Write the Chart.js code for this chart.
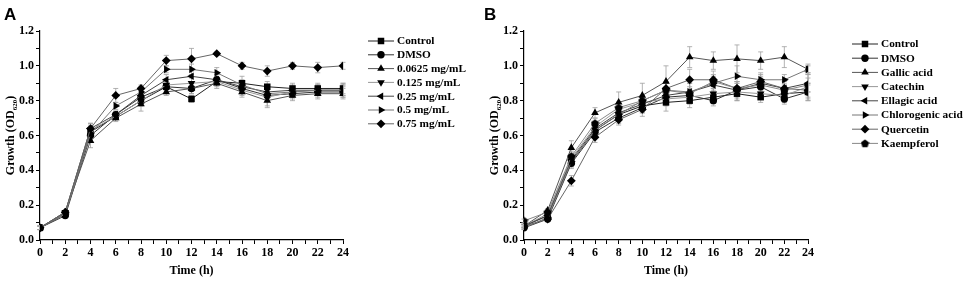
<!DOCTYPE html>
<html>
<head>
<meta charset="utf-8">
<script src="https://cdn.jsdelivr.net/npm/chart.js@4.4.1/dist/chart.umd.min.js"></script>
<style>
  body { margin: 0; background: #fff; }
  .panel { position: absolute; top: 0; height: 282px; }
  #boxA { left: 0; width: 482px; }
  #boxB { left: 480px; width: 484px; }
</style>
</head>
<body>
<div class="panel" id="boxA"><canvas id="chartA"></canvas></div>
<div class="panel" id="boxB"><canvas id="chartB"></canvas></div>
<script>
// time points (h)
const hours = [0, 2, 4, 6, 8, 10, 12, 14, 16, 18, 20, 22, 24];

// panel A: concentrations
const labelsA = ['Control', 'DMSO', '0.0625 mg/mL', '0.125 mg/mL', '0.25 mg/mL', '0.5 mg/mL', '0.75 mg/mL'];
const controlA = [0.07, 0.15, 0.62, 0.71, 0.80, 0.88, 0.81, 0.91, 0.90, 0.88, 0.87, 0.87, 0.87];
const dmsoA    = [0.07, 0.14, 0.60, 0.72, 0.82, 0.88, 0.87, 0.92, 0.87, 0.83, 0.84, 0.85, 0.85];
const c0625A   = [0.07, 0.16, 0.57, 0.70, 0.78, 0.85, 0.87, 0.90, 0.85, 0.80, 0.83, 0.84, 0.84];
const c125A    = [0.07, 0.16, 0.63, 0.71, 0.80, 0.89, 0.90, 0.91, 0.86, 0.82, 0.85, 0.86, 0.86];
const c25A     = [0.07, 0.16, 0.64, 0.72, 0.83, 0.92, 0.94, 0.92, 0.88, 0.85, 0.86, 0.86, 0.86];
const c5A      = [0.07, 0.15, 0.61, 0.77, 0.85, 0.98, 0.98, 0.96, 0.89, 0.84, 0.85, 0.86, 0.86];
const c75A     = [0.07, 0.16, 0.64, 0.83, 0.87, 1.03, 1.04, 1.07, 1.00, 0.97, 1.00, 0.99, 1.00];
const errA = [
  [0.01, 0.01, 0.03, 0.02, 0.03, 0.02, 0.02, 0.02, 0.04, 0.03, 0.03, 0.03, 0.03],
  [0.01, 0.01, 0.03, 0.02, 0.03, 0.03, 0.03, 0.03, 0.03, 0.03, 0.03, 0.03, 0.03],
  [0.01, 0.01, 0.04, 0.02, 0.04, 0.02, 0.03, 0.03, 0.03, 0.04, 0.03, 0.03, 0.03],
  [0.01, 0.01, 0.03, 0.02, 0.03, 0.03, 0.03, 0.03, 0.03, 0.05, 0.03, 0.03, 0.03],
  [0.01, 0.01, 0.03, 0.02, 0.03, 0.03, 0.03, 0.03, 0.03, 0.03, 0.03, 0.03, 0.04],
  [0.01, 0.01, 0.03, 0.02, 0.03, 0.02, 0.03, 0.03, 0.03, 0.03, 0.03, 0.03, 0.03],
  [0.01, 0.01, 0.03, 0.04, 0.02, 0.03, 0.06, 0.01, 0.02, 0.03, 0.02, 0.03, 0.02]
];

// panel B: compounds
const labelsB = ['Control', 'DMSO', 'Gallic acid', 'Catechin', 'Ellagic acid', 'Chlorogenic acid', 'Quercetin', 'Kaempferol'];
const controlB     = [0.08, 0.14, 0.45, 0.63, 0.72, 0.77, 0.79, 0.80, 0.82, 0.84, 0.82, 0.84, 0.85];
const dmsoB        = [0.07, 0.12, 0.44, 0.62, 0.70, 0.76, 0.82, 0.83, 0.80, 0.86, 0.88, 0.81, 0.85];
const gallicB      = [0.08, 0.17, 0.53, 0.73, 0.79, 0.83, 0.91, 1.05, 1.03, 1.04, 1.03, 1.05, 0.98];
const catechinB    = [0.08, 0.15, 0.47, 0.65, 0.75, 0.79, 0.81, 0.82, 0.84, 0.85, 0.84, 0.83, 0.88];
const ellagicB     = [0.08, 0.14, 0.46, 0.64, 0.73, 0.78, 0.83, 0.85, 0.89, 0.86, 0.90, 0.87, 0.90];
const chlorogenicB = [0.07, 0.13, 0.45, 0.63, 0.72, 0.80, 0.86, 0.85, 0.90, 0.94, 0.92, 0.92, 0.98];
const quercetinB   = [0.08, 0.12, 0.34, 0.59, 0.69, 0.75, 0.87, 0.92, 0.92, 0.87, 0.91, 0.87, 0.86];
const kaempferolB  = [0.11, 0.16, 0.48, 0.67, 0.76, 0.80, 0.86, 0.84, 0.91, 0.87, 0.89, 0.86, 0.89];
const errB = [
  [0.01, 0.01, 0.03, 0.03, 0.03, 0.04, 0.05, 0.04, 0.03, 0.04, 0.03, 0.03, 0.05],
  [0.01, 0.01, 0.03, 0.03, 0.03, 0.03, 0.04, 0.04, 0.03, 0.04, 0.04, 0.03, 0.04],
  [0.01, 0.01, 0.04, 0.03, 0.06, 0.07, 0.09, 0.06, 0.05, 0.08, 0.05, 0.06, 0.02],
  [0.01, 0.01, 0.03, 0.03, 0.04, 0.04, 0.04, 0.04, 0.04, 0.05, 0.03, 0.04, 0.08],
  [0.01, 0.01, 0.03, 0.03, 0.03, 0.04, 0.04, 0.05, 0.04, 0.05, 0.04, 0.04, 0.05],
  [0.01, 0.01, 0.03, 0.03, 0.03, 0.03, 0.04, 0.05, 0.04, 0.06, 0.04, 0.03, 0.03],
  [0.01, 0.01, 0.03, 0.03, 0.03, 0.04, 0.04, 0.06, 0.05, 0.04, 0.04, 0.04, 0.04],
  [0.01, 0.01, 0.03, 0.03, 0.03, 0.03, 0.04, 0.04, 0.04, 0.04, 0.04, 0.04, 0.04]
];

const yTicks = [0, 0.2, 0.4, 0.6, 0.8, 1.0, 1.2];

// pentagon marker for Kaempferol
const pentagon = (() => {
  const c = document.createElement('canvas');
  c.width = 9; c.height = 9;
  const g = c.getContext('2d');
  g.fillStyle = '#000';
  g.beginPath();
  for (let i = 0; i < 5; i++) {
    const a = -Math.PI / 2 + i * 2 * Math.PI / 5;
    const px = 4.5 + 4.3 * Math.cos(a), py = 4.8 + 4.3 * Math.sin(a);
    i ? g.lineTo(px, py) : g.moveTo(px, py);
  }
  g.closePath();
  g.fill();
  return c;
})();

const markers = [
  { style: 'rect', rot: 0, r: 4.6 },
  { style: 'circle', rot: 0, r: 3.7 },
  { style: 'triangle', rot: 0, r: 4.4 },
  { style: 'triangle', rot: 180, r: 4.4 },
  { style: 'triangle', rot: -90, r: 4.4 },
  { style: 'triangle', rot: 90, r: 4.4 },
  { style: 'rectRot', rot: 0, r: 4.4 },
  { style: pentagon, rot: 0, r: 4.4 }
];
const lineColors = ['#222', '#333', '#555', '#999', '#444', '#777', '#666', '#888'];

const serif = '"Liberation Serif", "Times New Roman", serif';

const makeSets = (series, labels) => series.map((s, i) => ({
  label: labels[i],
  data: s,
  borderColor: lineColors[i],
  borderWidth: 1,
  backgroundColor: '#000',
  pointBackgroundColor: '#000',
  pointBorderColor: '#000',
  pointBorderWidth: 0,
  pointStyle: markers[i].style,
  pointRotation: markers[i].rot,
  pointRadius: markers[i].r,
  tension: 0,
  order: series.length - i
}));

// error bars, y title and legend drawn on the canvas
const extrasPlugin = {
  id: 'extras',
  beforeDatasetsDraw(chart) {
    const ctx = chart.ctx;
    const errs = chart.options.plugins.extras.errors;
    const y = chart.scales.y;
    ctx.save();
    ctx.strokeStyle = '#a0a0a0';
    ctx.lineWidth = 0.8;
    chart.data.datasets.forEach((ds, i) => {
      const meta = chart.getDatasetMeta(i);
      meta.data.forEach((pt, j) => {
        const e = errs[i][j];
        const top = y.getPixelForValue(ds.data[j] + e);
        const bot = y.getPixelForValue(ds.data[j] - e);
        ctx.beginPath();
        ctx.moveTo(pt.x, top); ctx.lineTo(pt.x, bot);
        ctx.moveTo(pt.x - 2.5, top); ctx.lineTo(pt.x + 2.5, top);
        ctx.moveTo(pt.x - 2.5, bot); ctx.lineTo(pt.x + 2.5, bot);
        ctx.stroke();
      });
    });
    ctx.restore();
  },
  afterDraw(chart) {
    const ctx = chart.ctx;
    const o = chart.options.plugins.extras;
    const area = chart.chartArea;
    ctx.save();
    // panel letter
    ctx.fillStyle = '#000';
    ctx.font = 'bold 17px "Liberation Sans", Arial, sans-serif';
    ctx.textBaseline = 'top';
    ctx.fillText(o.letter, o.letterX, 7);
    // y title with subscript
    ctx.translate(o.titleX, (area.top + area.bottom) / 2);
    ctx.rotate(-Math.PI / 2);
    ctx.textBaseline = 'middle';
    const p1 = 'Growth (OD', p2 = '620', p3 = ')';
    ctx.font = 'bold 12px ' + serif;
    const w1 = ctx.measureText(p1).width, w3 = ctx.measureText(p3).width;
    ctx.font = 'bold 7px ' + serif;
    const w2 = ctx.measureText(p2).width;
    const x0 = -(w1 + w2 + w3) / 2;
    ctx.font = 'bold 12px ' + serif;
    ctx.fillText(p1, x0, 0);
    ctx.font = 'bold 7px ' + serif;
    ctx.fillText(p2, x0 + w1, 4);
    ctx.font = 'bold 12px ' + serif;
    ctx.fillText(p3, x0 + w1 + w2, 0);
    ctx.restore();

    // legend
    ctx.save();
    ctx.font = 'bold 11.3px ' + serif;
    ctx.textBaseline = 'middle';
    chart.data.datasets.forEach((ds, i) => {
      const ly = o.legY + i * o.legDy;
      ctx.strokeStyle = ds.borderColor;
      ctx.lineWidth = 1;
      ctx.beginPath();
      ctx.moveTo(o.legX, ly); ctx.lineTo(o.legX + 26, ly);
      ctx.stroke();
      ctx.fillStyle = '#000';
      Chart.helpers.drawPoint(ctx, {
        pointStyle: ds.pointStyle, rotation: ds.pointRotation,
        radius: ds.pointRadius, borderWidth: 0
      }, o.legX + 13, ly);
      ctx.fillStyle = '#000';
      ctx.fillText(ds.label, o.legX + 29, ly + 0.5);
    });
    ctx.restore();
  }
};

const makeChart = (id, series, labels, errs, opts) => {
  const ctx = document.getElementById(id).getContext('2d');
  return new Chart(ctx, {
    type: 'line',
    data: { labels: hours, datasets: makeSets(series, labels) },
    plugins: [extrasPlugin],
    options: {
      responsive: true,
      maintainAspectRatio: false,
      animation: false,
      layout: { padding: { left: 0, right: opts.padRight, top: 31, bottom: 0 } },
      plugins: {
        legend: { display: false },
        tooltip: { enabled: false },
        extras: Object.assign({ errors: errs }, opts)
      },
      scales: {
        x: {
          type: 'linear',
          min: 0, max: 24,
          afterFit: (s) => { s.height = 42; },
          afterBuildTicks: (s) => { s.ticks = Array.from({ length: 25 }, (_, k) => ({ value: k })); },
          border: { color: '#000', width: 1.2 },
          grid: { drawOnChartArea: false, color: '#000', tickLength: 4, tickWidth: 1 },
          ticks: {
            color: '#000', padding: 2, maxRotation: 0, autoSkip: false,
            font: { family: serif, weight: 'bold', size: 12 },
            callback: (v) => (v % 2 === 0 ? v : '')
          },
          title: {
            display: true, text: 'Time (h)', color: '#000',
            font: { family: serif, weight: 'bold', size: 12 }, padding: { top: 8 }
          }
        },
        y: {
          min: 0, max: 1.2,
          afterFit: (s) => { s.width = opts.yWidth; },
          afterBuildTicks: (s) => { s.ticks = Array.from({ length: 13 }, (_, k) => ({ value: k / 10 })); },
          border: { color: '#000', width: 1.2 },
          grid: { drawOnChartArea: false, color: '#000', tickLength: 4, tickWidth: 1 },
          ticks: {
            color: '#000', padding: 2, autoSkip: false,
            font: { family: serif, weight: 'bold', size: 12 },
            callback: (v) => {
              const t = yTicks.find(k => Math.abs(k - v) < 1e-6);
              return t === undefined ? '' : t.toFixed(1);
            }
          }
        }
      }
    }
  });
};

makeChart('chartA', [controlA, dmsoA, c0625A, c125A, c25A, c5A, c75A], labelsA, errA,
  { letter: 'A', letterX: 4, titleX: 11, yWidth: 40, padRight: 139, legX: 368, legY: 41, legDy: 13.8 });
makeChart('chartB', [controlB, dmsoB, gallicB, catechinB, ellagicB, chlorogenicB, quercetinB, kaempferolB], labelsB, errB,
  { letter: 'B', letterX: 4, titleX: 15, yWidth: 44, padRight: 156, legX: 372, legY: 44, legDy: 14.2 });
</script>
</body>
</html>
